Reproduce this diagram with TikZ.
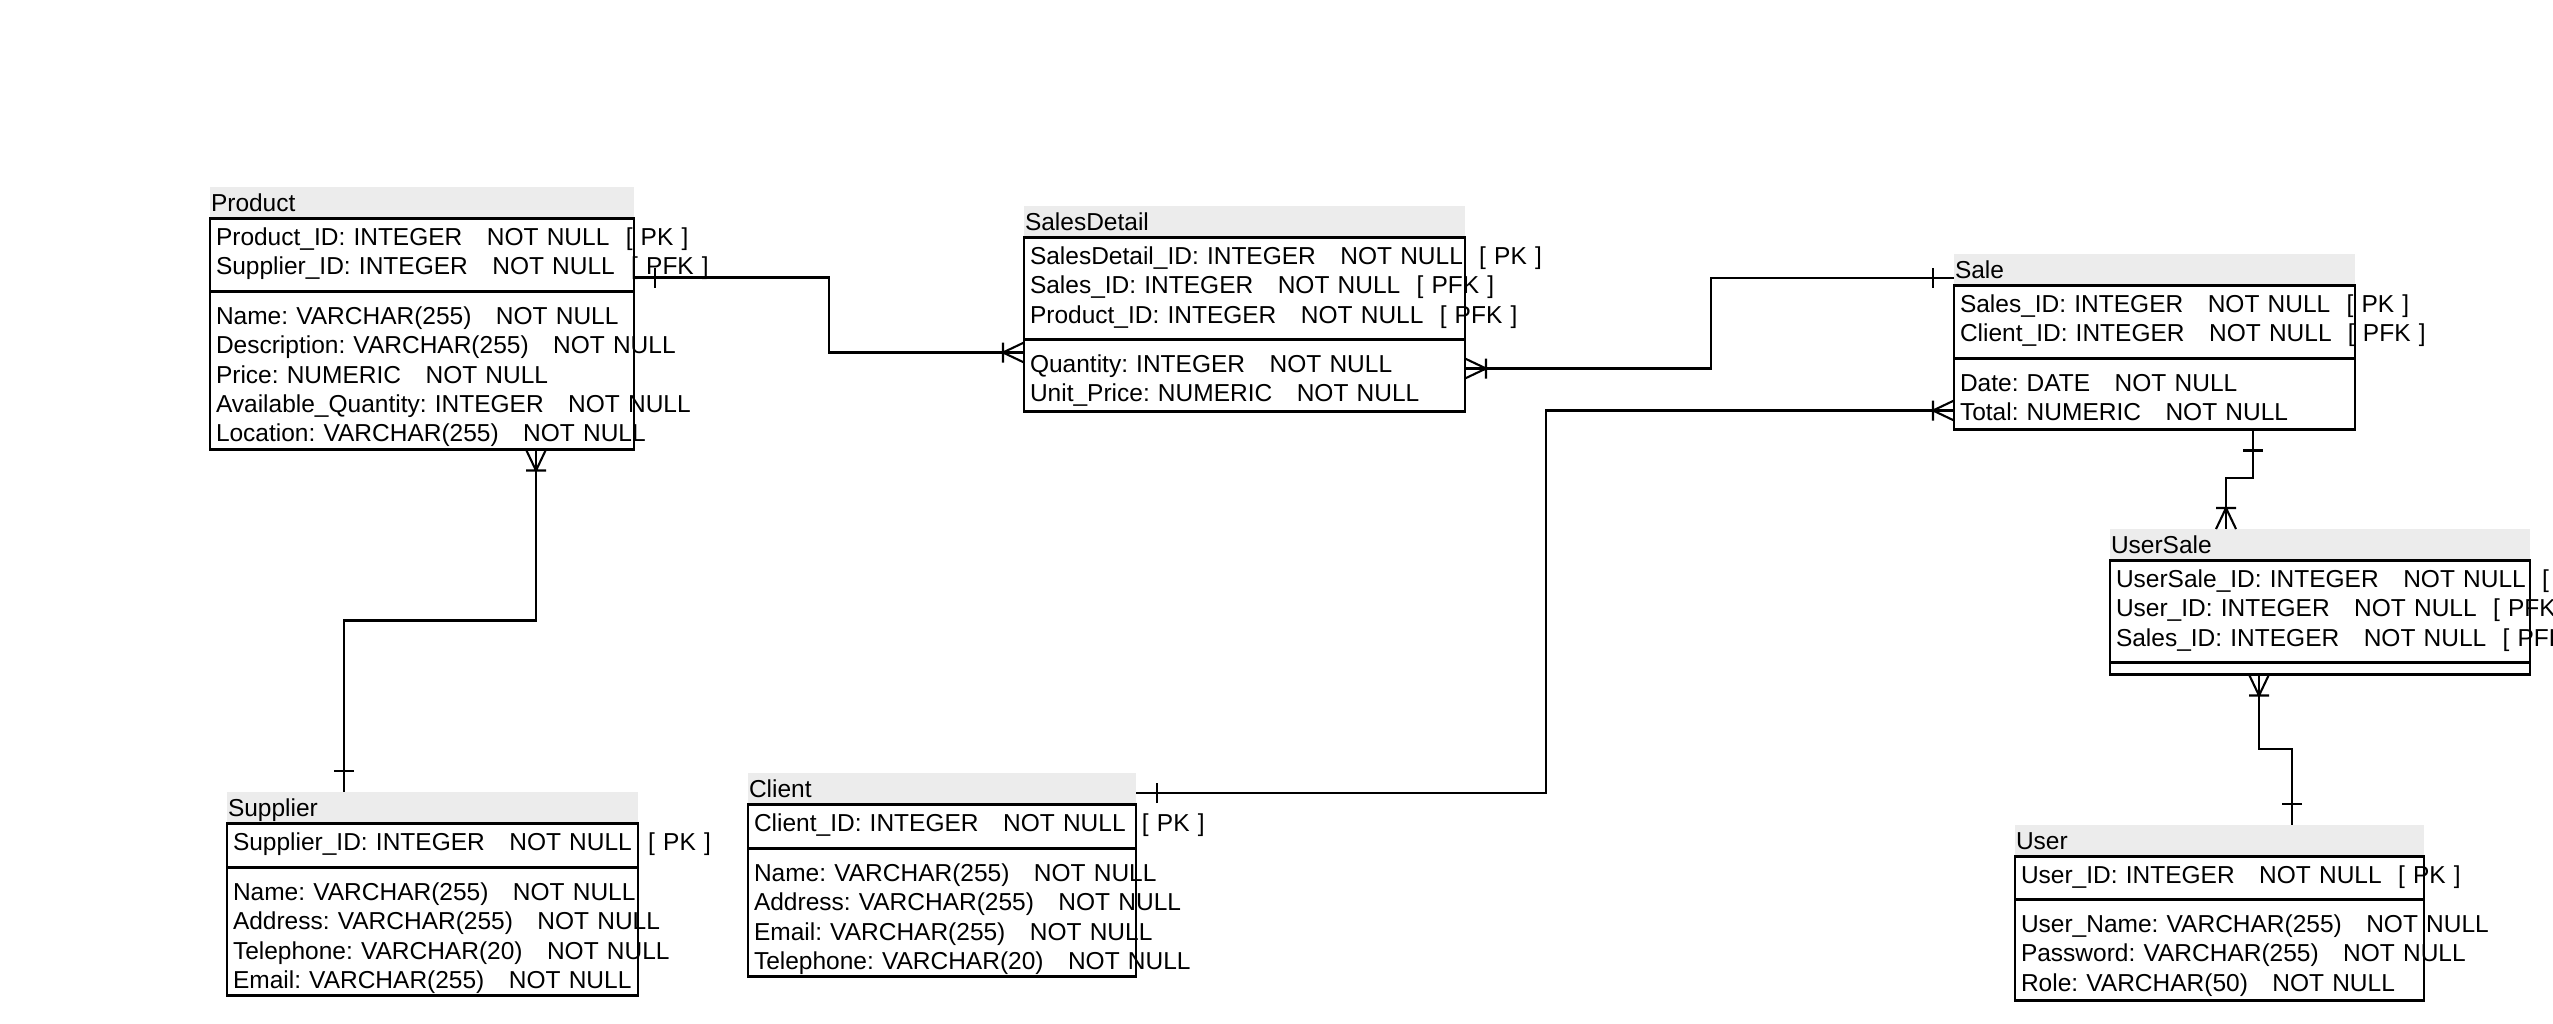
\documentclass[tikz,border=0pt]{standalone}
\usepackage{fontspec}
\setmainfont{Liberation Sans}
\usetikzlibrary{positioning,arrows.meta}
\definecolor{headgray}{RGB}{236,236,236}
\newcommand{\fieldrow}[1]{\leavevmode\rlap{\strut#1}}
\frenchspacing

\pgfdeclarearrow{
  name = erone,
  parameters = {\the\pgflinewidth},
  setup code = {
    \pgfarrowssettipend{0pt}
    \pgfarrowssetlineend{0pt}
    \pgfarrowssetbackend{-21pt}
    \pgfarrowssetvisualbackend{-21pt}
  },
  drawing code = {
    \pgfpathmoveto{\pgfqpoint{-21pt}{10pt}}
    \pgfpathlineto{\pgfqpoint{-21pt}{-10pt}}
    \pgfusepathqstroke
  }
}
\pgfdeclarearrow{
  name = ermany,
  parameters = {\the\pgflinewidth},
  setup code = {
    \pgfarrowssettipend{0pt}
    \pgfarrowssetlineend{0pt}
    \pgfarrowssetbackend{-21pt}
    \pgfarrowssetvisualbackend{-21pt}
  },
  drawing code = {
    \pgfpathmoveto{\pgfqpoint{0pt}{10pt}}
    \pgfpathlineto{\pgfqpoint{-21pt}{0pt}}
    \pgfpathlineto{\pgfqpoint{0pt}{-10pt}}
    \pgfpathmoveto{\pgfqpoint{-21pt}{10pt}}
    \pgfpathlineto{\pgfqpoint{-21pt}{-10pt}}
    \pgfusepathqstroke
  }
}

\begin{document}
\begin{tikzpicture}[x=1pt,y=1pt,line width=2.1pt,font=\fontsize{24.5}{29.3}\selectfont]
\tikzstyle{tblname}=[anchor=north west,fill=headgray,minimum height=30pt,inner xsep=1pt,inner ysep=0pt,outer sep=0pt,text height=18pt,text depth=0pt,align=left]
\tikzstyle{keybox}=[anchor=north west,draw=black,inner xsep=6pt,inner ysep=0pt,outer sep=0pt,align=left,text height=27pt]
\tikzstyle{attrbox}=[anchor=north west,draw=black,inner xsep=6pt,inner ysep=0pt,outer sep=0pt,align=left,text height=33pt]
\tikzstyle{erlink}=[draw=black,line width=2.1pt]
\useasboundingbox (0,0) rectangle (2553,-1023);

\node[tblname,text width=422pt] (prodh) at (210,-187) {Product};
\node[keybox,text width=412pt,text depth=46pt] (prodk) [below right=1.5pt and 0pt of prodh.south west] {\fieldrow{Product\_ID: INTEGER\ \ \ NOT NULL\ \ [ PK ]}\\\fieldrow{Supplier\_ID: INTEGER\ \ \ NOT NULL\ \ [ PFK ]}};
\node[attrbox,text width=412pt,text depth=125pt] (proda) [below=0pt of prodk] {\fieldrow{Name: VARCHAR(255)\ \ \ NOT NULL}\\\fieldrow{Description: VARCHAR(255)\ \ \ NOT NULL}\\\fieldrow{Price: NUMERIC\ \ \ NOT NULL}\\\fieldrow{Available\_Quantity: INTEGER\ \ \ NOT NULL}\\\fieldrow{Location: VARCHAR(255)\ \ \ NOT NULL}};

\node[tblname,text width=439pt] (sdh) at (1024,-206) {SalesDetail};
\node[keybox,text width=429pt,text depth=75pt] (sdk) [below right=1.5pt and 0pt of sdh.south west] {\fieldrow{SalesDetail\_ID: INTEGER\ \ \ NOT NULL\ \ [ PK ]}\\\fieldrow{Sales\_ID: INTEGER\ \ \ NOT NULL\ \ [ PFK ]}\\\fieldrow{Product\_ID: INTEGER\ \ \ NOT NULL\ \ [ PFK ]}};
\node[attrbox,text width=429pt,text depth=39pt] (sda) [below=0pt of sdk] {\fieldrow{Quantity: INTEGER\ \ \ NOT NULL}\\\fieldrow{Unit\_Price: NUMERIC\ \ \ NOT NULL}};

\node[tblname,text width=399pt] (saleh) at (1954,-254) {Sale};
\node[keybox,text width=389pt,text depth=46pt] (salek) [below right=1.5pt and 0pt of saleh.south west] {\fieldrow{Sales\_ID: INTEGER\ \ \ NOT NULL\ \ [ PK ]}\\\fieldrow{Client\_ID: INTEGER\ \ \ NOT NULL\ \ [ PFK ]}};
\node[attrbox,text width=389pt,text depth=38pt] (salea) [below=0pt of salek] {\fieldrow{Date: DATE\ \ \ NOT NULL}\\\fieldrow{Total: NUMERIC\ \ \ NOT NULL}};

\node[tblname,text width=418pt] (ush) at (2110,-529) {UserSale};
\node[keybox,text width=408pt,text depth=75pt] (usk) [below right=1.5pt and 0pt of ush.south west] {\fieldrow{UserSale\_ID: INTEGER\ \ \ NOT NULL\ \ [ PK ]}\\\fieldrow{User\_ID: INTEGER\ \ \ NOT NULL\ \ [ PFK ]}\\\fieldrow{Sales\_ID: INTEGER\ \ \ NOT NULL\ \ [ PFK ]}};
\node[attrbox,text width=408pt,text height=12pt,text depth=0pt] (usa) [below=0pt of usk] {};

\node[tblname,text width=409pt] (supph) at (227,-792) {Supplier};
\node[keybox,text width=399pt,text depth=17pt] (suppk) [below right=1.5pt and 0pt of supph.south west] {\fieldrow{Supplier\_ID: INTEGER\ \ \ NOT NULL\ \ [ PK ]}};
\node[attrbox,text width=399pt,text depth=95pt] (suppa) [below=0pt of suppk] {\fieldrow{Name: VARCHAR(255)\ \ \ NOT NULL}\\\fieldrow{Address: VARCHAR(255)\ \ \ NOT NULL}\\\fieldrow{Telephone: VARCHAR(20)\ \ \ NOT NULL}\\\fieldrow{Email: VARCHAR(255)\ \ \ NOT NULL}};

\node[tblname,text width=386pt] (clienth) at (748,-773) {Client};
\node[keybox,text width=376pt,text depth=17pt] (clientk) [below right=1.5pt and 0pt of clienth.south west] {\fieldrow{Client\_ID: INTEGER\ \ \ NOT NULL\ \ [ PK ]}};
\node[attrbox,text width=376pt,text depth=95pt] (clienta) [below=0pt of clientk] {\fieldrow{Name: VARCHAR(255)\ \ \ NOT NULL}\\\fieldrow{Address: VARCHAR(255)\ \ \ NOT NULL}\\\fieldrow{Email: VARCHAR(255)\ \ \ NOT NULL}\\\fieldrow{Telephone: VARCHAR(20)\ \ \ NOT NULL}};

\node[tblname,text width=407pt] (userh) at (2015,-825) {User};
\node[keybox,text width=397pt,text depth=16pt] (userk) [below right=1.5pt and 0pt of userh.south west] {\fieldrow{User\_ID: INTEGER\ \ \ NOT NULL\ \ [ PK ]}};
\node[attrbox,text width=397pt,text depth=68pt] (usera) [below=0pt of userk] {\fieldrow{User\_Name: VARCHAR(255)\ \ \ NOT NULL}\\\fieldrow{Password: VARCHAR(255)\ \ \ NOT NULL}\\\fieldrow{Role: VARCHAR(50)\ \ \ NOT NULL}};

\draw[erlink,{erone}-{ermany}] ([yshift=14pt]prodk.south east) -- ++(195,0) |- ([yshift=-13pt]sda.north west);
\draw[erlink,{erone}-{ermany}] ([yshift=6pt]saleh.south west) -- ++(-243,0) |- ([yshift=-29pt]sda.north east);
\draw[erlink,{erone}-{ermany}] ([yshift=10pt]clienth.south east) -- ++(410,0) |- ([yshift=19pt]salea.south west);

\draw[erlink,{ermany}-{erone}] ([xshift=114pt]proda.south) -- ++(0,-171) -| ([xshift=117pt]supph.north west);
\draw[erlink,{erone}-{ermany}] ([xshift=98.5pt]salea.south) -- ++(0,-48.5) -| ([xshift=116pt]ush.north west);
\draw[erlink,{ermany}-{erone}] ([xshift=-61pt]usa.south) -- ++(0,-74.5) -| ([xshift=277pt]userh.north west);

\end{tikzpicture}
\end{document}
